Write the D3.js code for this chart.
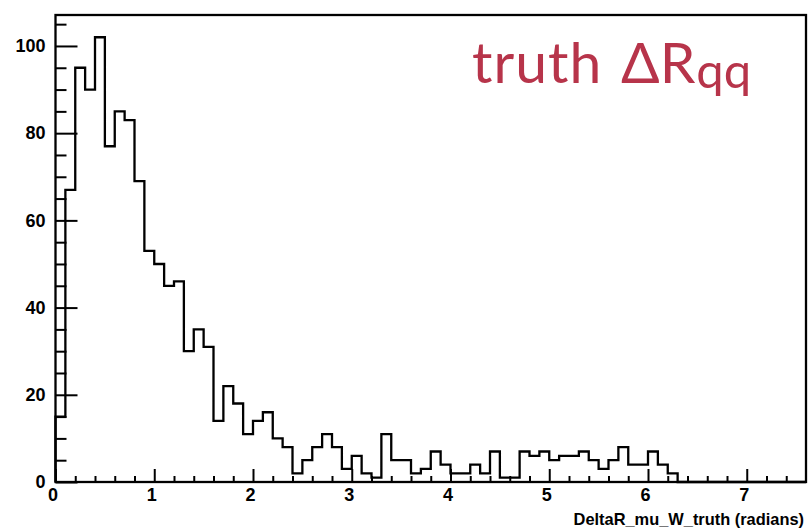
<!DOCTYPE html>
<html>
<head>
<meta charset="utf-8">
<script src="https://cdn.jsdelivr.net/npm/d3@7"></script>
<style>
  html, body { margin: 0; padding: 0; background: #fff; }
  svg { display: block; }
</style>
</head>
<body>
<svg id="chart" width="809" height="531"></svg>
<script>
// Histogram of DeltaR between muon and W (truth), 76 bins of width 0.1 on [0, 7.6]
const xRange = [0, 7.6];
const yRange = [0, 107.1];
const binCounts = [
  15, 67, 95, 90, 102, 77, 85, 83, 69, 53,
  50, 45, 46, 30, 35, 31, 14, 22, 18, 11,
  14, 16, 10, 8, 2, 5, 8, 11, 8, 3,
  6, 2, 1, 11, 5, 5, 2, 3, 7, 4,
  2, 2, 4, 2, 7, 1, 1, 7, 6, 7,
  5, 6, 6, 7, 5, 3, 5, 8, 4, 4,
  7, 4, 2, 0, 0, 0, 0, 0, 0, 0,
  0, 0, 0, 0, 0, 0
];
const xMajorTicks = [0, 1, 2, 3, 4, 5, 6, 7];
const xMinorTicks = [0.2, 0.4, 0.6, 0.8, 1.2, 1.4, 1.6, 1.8, 2.2, 2.4, 2.6, 2.8,
  3.2, 3.4, 3.6, 3.8, 4.2, 4.4, 4.6, 4.8, 5.2, 5.4, 5.6, 5.8, 6.2, 6.4, 6.6, 6.8, 7.2, 7.4];
const yMajorTicks = [0, 20, 40, 60, 80, 100];
const yMinorTicks = [5, 10, 15, 25, 30, 35, 45, 50, 55, 65, 70, 75, 85, 90, 95, 105];
const xTitle = "DeltaR_mu_W_truth (radians)";

const svg = d3.select("#chart");
const plot = { left: 55.5, right: 806, top: 15, bottom: 482 };

const x = d3.scaleLinear().domain(xRange).range([plot.left, plot.right]);
const y = d3.scaleLinear().domain(yRange).range([plot.bottom, plot.top]);

const nBins = binCounts.length;
const binWidth = (xRange[1] - xRange[0]) / nBins;

// Step outline of the histogram: rise from the baseline, step across bins, drop back
const pts = [[xRange[0], 0]];
binCounts.forEach((c, i) => {
  const lo = xRange[0] + i * binWidth;
  pts.push([lo, c], [lo + binWidth, c]);
});
pts.push([xRange[1], 0]);

const line = d3.line().x(d => x(d[0])).y(d => y(d[1]));

const labelFont = "'Liberation Sans', Arial, Helvetica, sans-serif";

// X axis: major + minor ticks pointing into the frame
const gxMinor = svg.append("g").attr("transform", `translate(0,${plot.bottom})`)
  .call(d3.axisBottom(x).tickValues(xMinorTicks).tickSizeInner(-6).tickSizeOuter(0).tickFormat(""));
const gx = svg.append("g").attr("transform", `translate(0,${plot.bottom})`)
  .call(d3.axisBottom(x).tickValues(xMajorTicks).tickSizeInner(-13).tickSizeOuter(0)
    .tickPadding(6).tickFormat(d3.format("d")));

// Y axis
const gyMinor = svg.append("g").attr("transform", `translate(${plot.left},0)`)
  .call(d3.axisLeft(y).tickValues(yMinorTicks).tickSizeInner(-11).tickSizeOuter(0).tickFormat(""));
const gy = svg.append("g").attr("transform", `translate(${plot.left},0)`)
  .call(d3.axisLeft(y).tickValues(yMajorTicks).tickSizeInner(-22).tickSizeOuter(0)
    .tickPadding(10).tickFormat(d3.format("d")));

[gxMinor, gx, gyMinor, gy].forEach(g => {
  g.select(".domain").remove();
  g.selectAll(".tick line").attr("stroke", "#000").attr("stroke-width", 2);
  g.selectAll("text").attr("fill", "#000")
    .style("font-family", labelFont).style("font-weight", "bold").style("font-size", "18px");
});
gx.selectAll("text").attr("dx", -3);

// Histogram outline
svg.append("path")
  .attr("d", line(pts))
  .attr("fill", "none")
  .attr("stroke", "#000")
  .attr("stroke-width", 2.3)
  .attr("stroke-linejoin", "miter");

// Frame
svg.append("rect")
  .attr("x", plot.left).attr("y", plot.top)
  .attr("width", plot.right - plot.left).attr("height", plot.bottom - plot.top)
  .attr("fill", "none").attr("stroke", "#000").attr("stroke-width", 2.3);

// Axis title
svg.append("text")
  .attr("x", plot.right - 2).attr("y", 525)
  .attr("text-anchor", "end")
  .style("font-family", labelFont).style("font-weight", "bold").style("font-size", "16.4px")
  .text(xTitle);

// Plot label
const title = svg.append("text")
  .attr("y", 83)
  .attr("fill", "#b7344a")
  .style("font-family", "Lato, 'Open Sans', sans-serif").style("font-size", "57px");
title.append("tspan").attr("x", 472).style("letter-spacing", "1px").text("truth");
title.append("tspan").attr("x", 621).text("\u0394R");
title.append("tspan").attr("dy", 5).attr("dx", 1).style("font-size", "49px").text("qq");
</script>
</body>
</html>
